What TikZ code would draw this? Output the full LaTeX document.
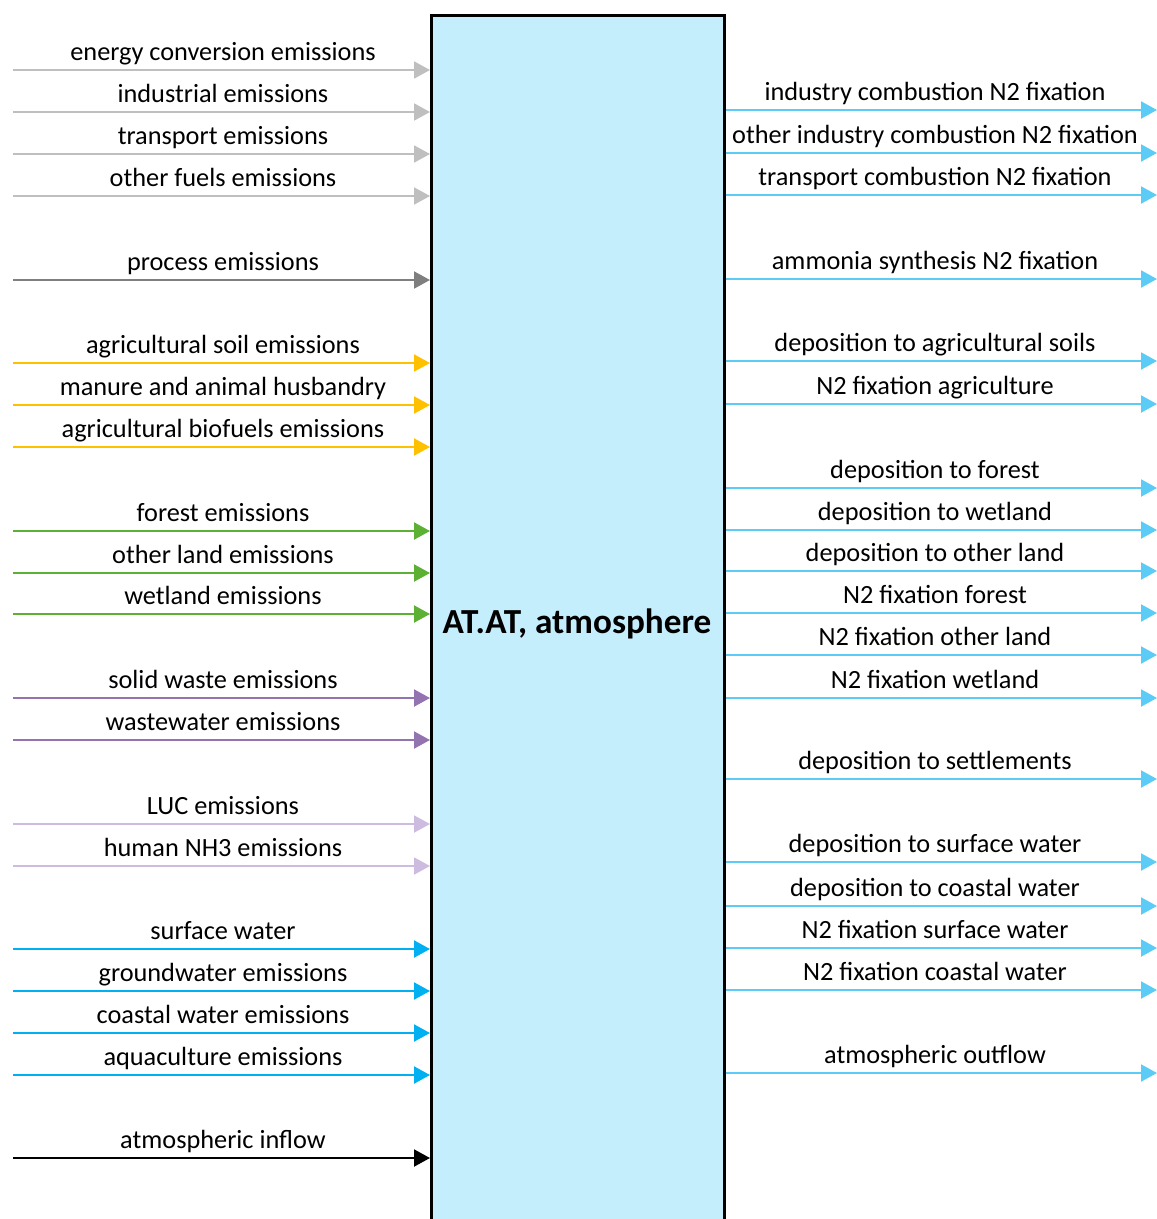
\documentclass[tikz,border=0pt]{standalone}
\usepackage{fontspec}
\setmainfont{Carlito}
\usetikzlibrary{arrows.meta}
\definecolor{boxfill}{HTML}{C5EEFD}
\definecolor{fuelgrey}{HTML}{BFBFBF}
\definecolor{procgrey}{HTML}{7F7F7F}
\definecolor{agrorange}{HTML}{FFC000}
\definecolor{landgreen}{HTML}{5CB033}
\definecolor{wastepurple}{HTML}{9474B0}
\definecolor{lucpurple}{HTML}{CDBCE0}
\definecolor{waterblue}{HTML}{00B0F0}
\definecolor{outblue}{HTML}{5CCBF5}
\tikzset{
  flow/.style={line width=2pt, -{Triangle[length=16pt,width=17pt]}},
  lbl/.style={anchor=base, inner sep=0pt, font=\fontsize{26.3}{30}\selectfont},
  title/.style={anchor=base, inner sep=0pt, font=\fontsize{35.2}{40}\selectfont\bfseries},
}
\begin{document}
\begin{tikzpicture}[x=1pt,y=-1pt]
\useasboundingbox (0,0) rectangle (1157,1219);
% central compartment, running off the lower edge
\node[draw=black, line width=2.5pt, fill=boxfill, minimum width=293pt,
      minimum height=1230pt, inner sep=0pt, anchor=north west] (box) at (430,14) {};
\node[title] (boxlabel) at (577,633) {AT.AT, atmosphere};

% incoming flows: y position / colour / label
\foreach \y/\c/\t [count=\i] in {
  70/fuelgrey/energy conversion emissions,
  112/fuelgrey/industrial emissions,
  154/fuelgrey/transport emissions,
  196/fuelgrey/other fuels emissions,
  280/procgrey/process emissions,
  363/agrorange/agricultural soil emissions,
  405/agrorange/manure and animal husbandry,
  447/agrorange/agricultural biofuels emissions,
  531/landgreen/forest emissions,
  573/landgreen/other land emissions,
  614/landgreen/wetland emissions,
  698/wastepurple/solid waste emissions,
  740/wastepurple/wastewater emissions,
  824/lucpurple/LUC emissions,
  866/lucpurple/human NH3 emissions,
  949/waterblue/surface water,
  991/waterblue/groundwater emissions,
  1033/waterblue/coastal water emissions,
  1075/waterblue/aquaculture emissions,
  1158/black/atmospheric inflow}{
  \coordinate (in\i) at (13,\y);
  \node[lbl] (inlbl\i) at (223,\y-10) {\t};
  \draw[flow, draw=\c, fill=\c] (in\i) -- (in\i -| box.west);
}

% outgoing flows
\foreach \y/\t [count=\i] in {
  110/industry combustion N2 fixation,
  153/other industry combustion N2 fixation,
  195/transport combustion N2 fixation,
  279/ammonia synthesis N2 fixation,
  361/deposition to agricultural soils,
  404/N2 fixation agriculture,
  488/deposition to forest,
  530/deposition to wetland,
  571/deposition to other land,
  613/N2 fixation forest,
  655/N2 fixation other land,
  698/N2 fixation wetland,
  779/deposition to settlements,
  862/deposition to surface water,
  906/deposition to coastal water,
  948/N2 fixation surface water,
  990/N2 fixation coastal water,
  1073/atmospheric outflow}{
  \coordinate (out\i) at (1157,\y);
  \node[lbl] (outlbl\i) at (935,\y-10) {\t};
  \draw[flow, draw=outblue, fill=outblue] (out\i -| box.east) -- (out\i);
}
\end{tikzpicture}
\end{document}
